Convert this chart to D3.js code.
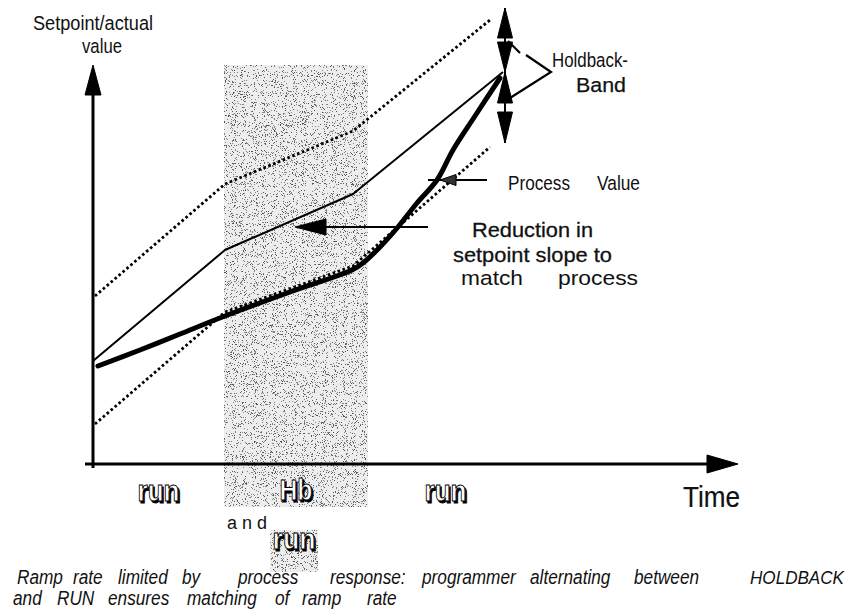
<!DOCTYPE html>
<html>
<head>
<meta charset="utf-8">
<script src="https://cdn.jsdelivr.net/npm/d3@7"></script>
<style>
  html, body { margin: 0; padding: 0; background: #fff; }
  svg { display: block; }
  text { font-family: "Liberation Sans", Arial, sans-serif; fill: #111; }
</style>
</head>
<body>
<svg id="chart" width="852" height="611"></svg>
<script>
// ---- Data (time and value units of the programmer diagram) ----
const setpointT = [0, 13.2, 26, 41];
const setpointV = [10.3, 21.4, 27.0, 39.2];

const bandUpperT = [0.2, 13.2, 26, 39.7];
const bandUpperV = [16.8, 28.0, 33.3, 44.4];

const bandLowerT = [0.2, 13.2, 26, 39.7];
const bandLowerV = [4.0, 15.2, 19.8, 31.7];

const processT = [0.5, 4.7, 8.7, 13.2, 19.7, 25.9, 27.0, 28.7, 30.5, 32.4, 34.4, 36.0, 38.2, 40.7];
const processV = [9.8, 11.4, 13.0, 14.8, 17.2, 19.4, 20.1, 21.7, 23.7, 26.1, 28.4, 31.4, 34.8, 38.6];

// programmer phases along the time axis
const phaseNames = ["run", "Hb", "run"];
const phaseStart = [0, 13.1, 27.5];
const phaseEnd = [13.1, 27.5, 43];

// holdback band shown at the end of the ramp: upper limit, setpoint, lower limit
const holdbackT = 41.2;
const holdbackV = [45.6, 39.2, 32.1];

const axisTitleY = ["Setpoint/actual", "value"];
const axisTitleX = "Time";
const captionLines = [
  [["Ramp", 17], ["rate", 73], ["limited", 118], ["by", 182], ["process", 238], ["response:", 330],
   ["programmer", 422], ["alternating", 530], ["between", 634], ["HOLDBACK", 750]],
  [["and", 13], ["RUN", 57], ["ensures", 108], ["matching", 187], ["of", 275], ["ramp", 302], ["rate", 367]]
];

// ---- Scales ----
const x = d3.scaleLinear().domain([0, 64.5]).range([93, 738]);
const y = d3.scaleLinear().domain([0, 40]).range([464, 64]);

const svg = d3.select("#chart");
const defs = svg.append("defs");

// stippled screen for the holdback window
const f = defs.append("filter").attr("id", "stipple")
  .attr("x", 0).attr("y", 0).attr("width", 1).attr("height", 1)
  .attr("filterUnits", "objectBoundingBox");
f.append("feTurbulence").attr("type", "fractalNoise").attr("baseFrequency", 1.1)
  .attr("numOctaves", 2).attr("seed", 7).attr("result", "noise");
f.append("feColorMatrix").attr("in", "noise").attr("type", "matrix")
  .attr("values", "0 0 0 0 0  0 0 0 0 0  0 0 0 0 0  1.6 0 0 0 -0.3").attr("result", "a");
const ct = f.append("feComponentTransfer").attr("in", "a");
ct.append("feFuncA").attr("type", "discrete").attr("tableValues", "0 0 0 0 0 0 0 0.45 0.65 0.65");

function stipple(x0, y0, w, h) {
  svg.append("rect").attr("x", x0).attr("y", y0).attr("width", w).attr("height", h)
    .attr("fill", "#ededed");
  svg.append("rect").attr("x", x0).attr("y", y0).attr("width", w).attr("height", h)
    .attr("fill", "#000").attr("filter", "url(#stipple)");
}

// holdback window (extends under the phase labels)
stipple(x(phaseStart[1]), y(39.9), x(phaseEnd[1]) - x(phaseStart[1]), y(-4.3) - y(39.9));
// small patch behind the lower "run"
stipple(x(17.7), y(-6.6), x(22.5) - x(17.7), y(-10.8) - y(-6.6));

// ---- Lines ----
const zip = (ts, vs) => ts.map((t, i) => [t, vs[i]]);
const lineLin = d3.line().x(d => x(d[0])).y(d => y(d[1]));
const lineSmooth = d3.line().x(d => x(d[0])).y(d => y(d[1])).curve(d3.curveCatmullRom.alpha(0.5));

[zip(bandUpperT, bandUpperV), zip(bandLowerT, bandLowerV)].forEach(pts => {
  svg.append("path").attr("d", lineLin(pts))
    .attr("fill", "none").attr("stroke", "#000").attr("stroke-width", 2.8)
    .attr("stroke-dasharray", "2.6 2.6");
});

svg.append("path").attr("d", lineLin(zip(setpointT, setpointV)))
  .attr("fill", "none").attr("stroke", "#000").attr("stroke-width", 2)
  .attr("stroke-linejoin", "round");

svg.append("path").attr("d", lineSmooth(zip(processT, processV)))
  .attr("fill", "none").attr("stroke", "#000").attr("stroke-width", 5)
  .attr("stroke-linecap", "round");

// ---- Axes ----
const xAxis = d3.axisBottom(x).tickValues([]).tickSizeOuter(0);
const gx = svg.append("g").attr("transform", `translate(0,${y(0)})`).call(xAxis);
gx.select(".domain").attr("d", `M${x(-0.8)},0H${x(61.5)}`)
  .attr("stroke", "#000").attr("stroke-width", 3);

const yAxis = d3.axisLeft(y).tickValues([]).tickSizeOuter(0);
const gy = svg.append("g").attr("transform", `translate(${x(0)},0)`).call(yAxis);
gy.select(".domain").attr("d", `M0,${y(-0.4)}V${y(37)}`)
  .attr("stroke", "#000").attr("stroke-width", 3);

function arrowHead(tx, ty, dir, len, half, fill) {
  // dir: "up", "down", "left", "right" -- direction the tip points
  let pts;
  if (dir === "up") pts = [[tx, ty], [tx - half, ty + len], [tx + half, ty + len]];
  if (dir === "down") pts = [[tx, ty], [tx - half, ty - len], [tx + half, ty - len]];
  if (dir === "left") pts = [[tx, ty], [tx + len, ty - half], [tx + len, ty + half]];
  if (dir === "right") pts = [[tx, ty], [tx - len, ty - half], [tx - len, ty + half]];
  svg.append("path").attr("d", "M" + pts.map(p => p.join(",")).join("L") + "Z")
    .attr("fill", fill || "#000").attr("stroke", "#000").attr("stroke-width", 1)
    .attr("stroke-linejoin", "round");
}

arrowHead(x(64.5), y(0), "right", 31, 9);
arrowHead(x(0), y(39.9), "up", 30, 8);

// ---- Holdback band double arrows ----
const hx = x(holdbackT);
const [hTop, hMid, hBot] = holdbackV.map(v => y(v));
svg.append("line").attr("x1", hx).attr("x2", hx).attr("y1", hTop).attr("y2", hBot)
  .attr("stroke", "#000").attr("stroke-width", 2);
arrowHead(hx, hTop, "up", 30, 7.5);
arrowHead(hx, hMid, "down", 30, 7.5);
arrowHead(hx, hMid, "up", 31, 7.5);
arrowHead(hx, hBot, "down", 31, 7.5);

// bracket joining the two arrows to the label
const bx = x(45.8), by = y(39.2);
svg.append("path").attr("d", `M${hx + 3},${y(42.3)}L${hx + 15},${y(41.1)}`)
  .attr("stroke", "#000").attr("stroke-width", 2.2).attr("fill", "none");
svg.append("path").attr("d", `M${hx + 21},${y(40.9)}L${bx},${by}L${hx + 5},${y(36.6)}`)
  .attr("stroke", "#000").attr("stroke-width", 2.2).attr("fill", "none");

// ---- Annotation arrows ----
// Process value pointer
svg.append("line").attr("x1", x(33.5)).attr("x2", x(39.4)).attr("y1", y(28.4)).attr("y2", y(28.4))
  .attr("stroke", "#000").attr("stroke-width", 2);
arrowHead(x(34.7), y(28.4), "left", 16, 5.5, "#333");

// Reduction in setpoint slope pointer
svg.append("line").attr("x1", x(20.5)).attr("x2", x(33.5)).attr("y1", y(23.7)).attr("y2", y(23.7))
  .attr("stroke", "#000").attr("stroke-width", 2);
arrowHead(x(20.2), y(23.7), "left", 31, 8);

// ---- Text ----
function narrowText(str, x0, yb, size, width, opts = {}) {
  const t = svg.append("text").attr("x", x0).attr("y", yb)
    .attr("font-size", size).text(str);
  if (opts.italic) t.attr("font-style", "italic");
  if (opts.bold) t.attr("stroke", "#111").attr("stroke-width", opts.bold);
  const w = width || t.node().getComputedTextLength() * (opts.squeeze || 0.84);
  t.attr("textLength", w).attr("lengthAdjust", "spacingAndGlyphs");
  return t;
}

narrowText(axisTitleY[0], 33, 30, 20.5, 120);
narrowText(axisTitleY[1], 82, 53, 20.5, 40);

narrowText("Holdback-", 552, 67, 20.5, 76);
narrowText("Band", 576, 92, 20.5, 50, { bold: 0.25 });

narrowText("Process", 508, 190, 20.5, 62);
narrowText("Value", 597, 190, 20.5, 43);

narrowText("Reduction in", 472, 237, 21, 121, { bold: 0.3 });
narrowText("setpoint slope to", 453, 262, 21, 159, { bold: 0.3 });
narrowText("match", 461, 285, 20.5, 62);
narrowText("process", 558, 285, 20.5, 80);

narrowText(axisTitleX, 683, 507, 29, 57, { bold: 0.2 });

// outlined phase labels: black drop shadow under a white, black-edged letter
function outlined(str, cx, yb, size, width) {
  svg.append("text").attr("x", cx + 1.6).attr("y", yb + 1.6).attr("text-anchor", "middle")
    .attr("font-size", size).attr("font-weight", "bold")
    .style("fill", "#000").attr("stroke", "#000").attr("stroke-width", 0.8)
    .attr("textLength", width).attr("lengthAdjust", "spacingAndGlyphs").text(str);
  svg.append("text").attr("x", cx).attr("y", yb).attr("text-anchor", "middle")
    .attr("font-size", size).attr("font-weight", "bold")
    .style("fill", "#fff").attr("stroke", "#000").attr("stroke-width", 0.9)
    .attr("textLength", width).attr("lengthAdjust", "spacingAndGlyphs").text(str);
}

phaseNames.forEach((name, i) => {
  const cx = x((phaseStart[i] + phaseEnd[i]) / 2);
  outlined(name, cx, name === "Hb" ? 500 : 501, 29, name === "Hb" ? 33 : 42);
});

narrowText("a n d", 227, 529, 18, 40);
outlined("run", x(20.1), 549, 29, 43);

// caption
captionLines.forEach((line, li) => {
  const yb = li === 0 ? 584 : 605;
  line.forEach(([word, x0]) => {
    if (word === "HOLDBACK") {
      narrowText(word, x0, yb, 18, 94, { italic: true });
    } else {
      narrowText(word, x0, yb, 20.5, null, { italic: true, squeeze: 0.84 });
    }
  });
});
</script>
</body>
</html>
